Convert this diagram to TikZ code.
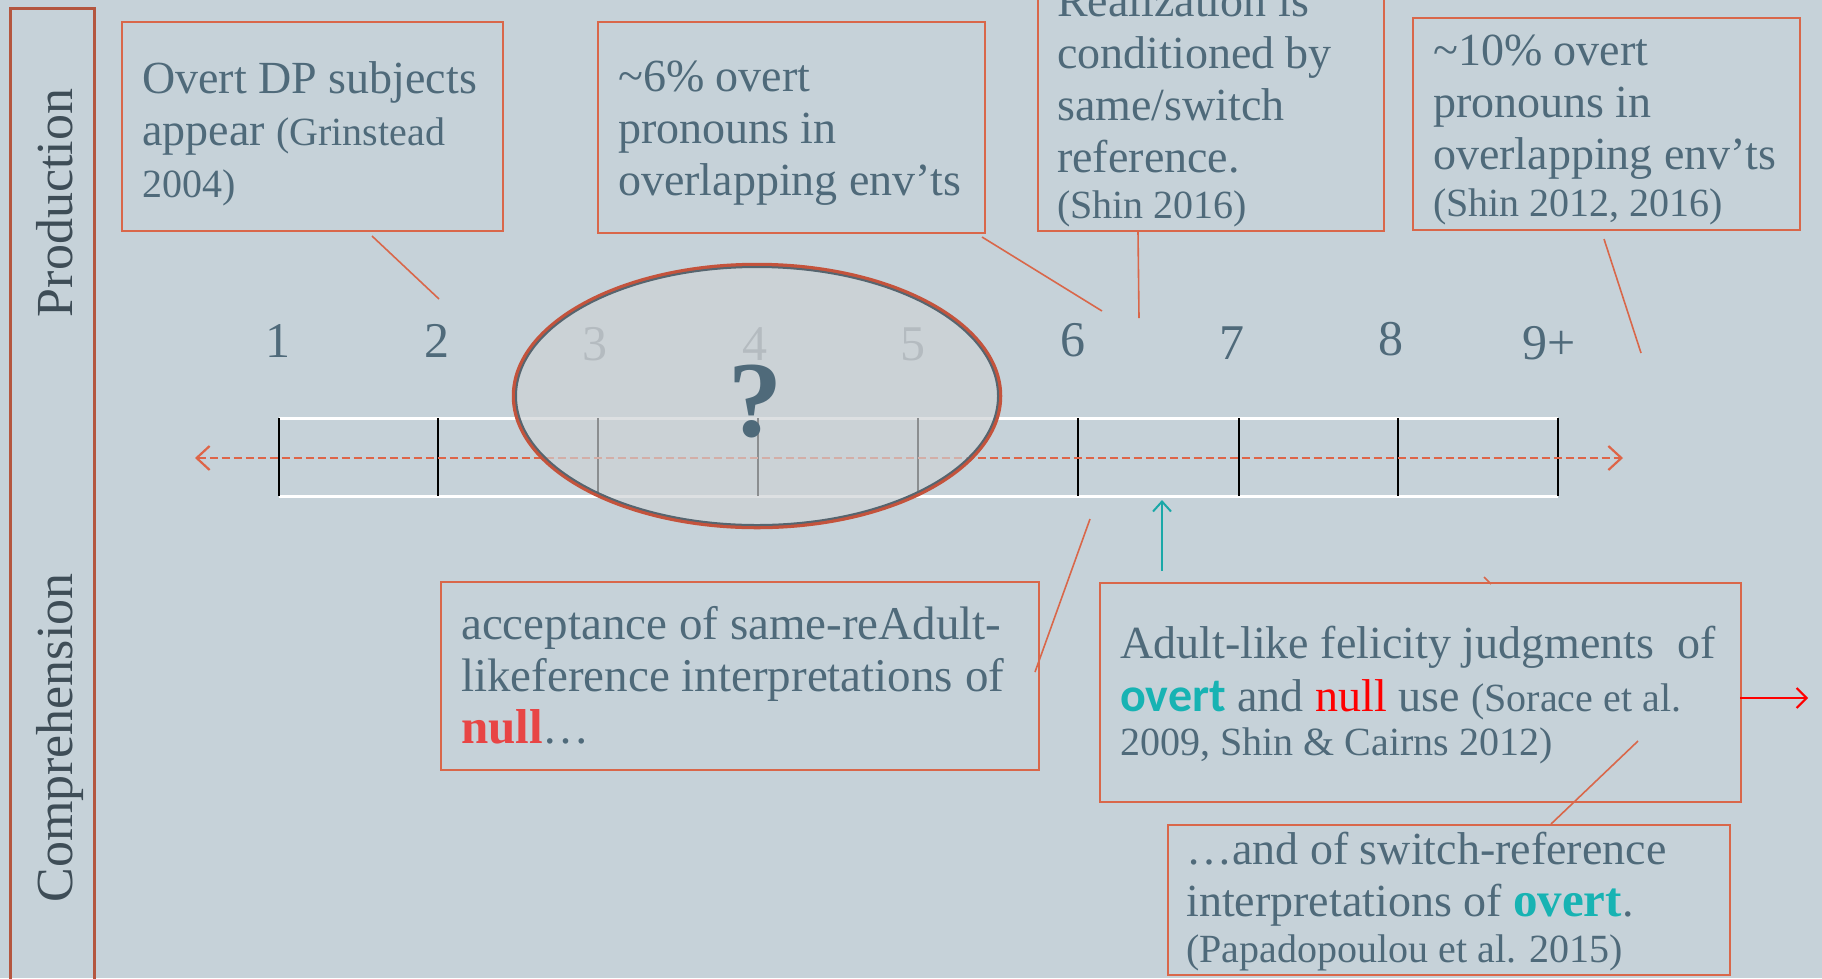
\documentclass[tikz,border=0pt]{standalone}
\usepackage{fontspec}
\setmainfont{Liberation Serif}
\newfontfamily\sansfam{Carlito}
\usetikzlibrary{arrows.meta,shapes.geometric}
\definecolor{bg}{HTML}{C6D2D9}
\definecolor{txtc}{HTML}{4F6A7A}
\definecolor{boxc}{HTML}{D9674A}
\definecolor{stripc}{HTML}{B4563F}
\definecolor{labc}{HTML}{3E4D57}
\definecolor{tealc}{HTML}{17B3B3}
\definecolor{nullc}{HTML}{E84545}
\definecolor{fadec}{HTML}{7F8C94}
\definecolor{ellc}{HTML}{CED2D5}
\definecolor{ellin}{HTML}{56656F}
\definecolor{ellout}{HTML}{C4533C}
\definecolor{dashc}{HTML}{DE6548}
\definecolor{arrteal}{HTML}{1AA8A8}
\newcommand{\mainsz}{\fontsize{46}{52}\selectfont}
\newcommand{\citesz}{\fontsize{40}{52}\selectfont}
\newcommand{\numsz}{\fontsize{50}{56}\selectfont}
\begin{document}
\begin{tikzpicture}[x=1pt,y=-1pt,
  box/.style={draw=boxc, line width=2.2pt, anchor=north west, inner sep=0pt},
  txt/.style={anchor=north west, inner sep=0pt, align=left, text=txtc, font=\mainsz},
  conn/.style={draw=boxc, line width=1.6pt},
  num/.style={anchor=base, inner sep=0pt, text=txtc, font=\numsz},
  fnum/.style={num, text=fadec},
  side/.style={anchor=base, rotate=90, inner sep=0pt, text=labc, font=\fontsize{52}{60}\selectfont}
]
\useasboundingbox (0,0) rectangle (1822,978);
\fill[bg] (0,0) rectangle (1822,978);
\clip (0,0) rectangle (1822,978);

% left strip
\node[draw=stripc, line width=2.5pt, anchor=north west, minimum width=84pt, minimum height=1000pt, inner sep=0pt] (strip) at (9,7) {};
\node[side] (prod) at (72,203) {Production};
\node[side] (comp) at (72,738) {Comprehension};

% boxes
\node[box, minimum width=381pt, minimum height=209pt] (b1) at (121,21) {};
\node[box, minimum width=387pt, minimum height=211pt] (b2) at (597,21) {};
\node[box, minimum width=346pt, minimum height=250pt] (b3) at (1037,-20) {};
\node[box, minimum width=387pt, minimum height=212pt] (b4) at (1412,17) {};
\node[box, minimum width=598pt, minimum height=188pt] (b5) at (440,581) {};
\node[box, minimum width=641pt, minimum height=219pt] (b6) at (1099,582) {};
\node[box, minimum width=562pt, minimum height=150pt] (b7) at (1167,824) {};

% box texts
\node[txt] (t1) at (142,56.6) {\strut Overt DP subjects\\appear {\citesz (Grinstead}\\{\citesz 2004)}};
\node[txt] (t2) at (618,54.6) {\strut\textasciitilde 6\% overt\\pronouns in\\overlapping env’ts};
\node[txt] (t3) at (1057,-20.4) {\strut Realization is\\conditioned by\\same/switch\\reference.\\[-6pt]{\citesz (Shin 2016)}};
\node[txt] (t4) at (1433,28.6) {\strut\textasciitilde 10\% overt\\pronouns in\\overlapping env’ts\\[-5pt]{\citesz (Shin 2012, 2016)}};
\node[txt, font=\fontsize{47}{52}\selectfont] (t5) at (461,602.6) {\strut acceptance of same-reAdult-\\likeference interpretations of\\{\fontsize{49}{52}\selectfont\bfseries\color{nullc}null}…};
\node[txt] (t6) at (1120,621.6) {\strut Adult-like felicity judgments\ \ of\\[1pt]{\sansfam\fontsize{48}{52}\selectfont\bfseries\color{tealc}overt} and {\color{red}null} use {\citesz (Sorace et al.}\\[-8pt]{\citesz 2009, Shin \& Cairns 2012)}};
\node[txt] (t7) at (1186,827.6) {\strut …and of switch-reference\\interpretations of {\fontsize{49}{52}\selectfont\bfseries\color{tealc}overt}.\\[-6pt]{\citesz (Papadopoulou et al. 2015)}};

% scale: white rails and ticks
\foreach \x [count=\i] in {279,438,598,758,918,1078,1239,1398,1558} {
  \coordinate (tt\i) at (\x,418);
  \coordinate (tb\i) at (\x,496);
}
\draw[white, line width=3pt] (tt1) -- (tt9);
\draw[white, line width=3pt] (tb1) -- (tb9);
\foreach \i in {1,...,9} { \draw[black, line width=2pt] (tt\i) -- (tb\i); }

% dashed arrow
\coordinate (dl) at (195,458);
\coordinate (dr) at (1623,458);
\draw[dashc, line width=2.8pt, dash pattern=on 8pt off 4pt,
  {Straight Barb[length=13pt,width=24pt,line width=2.2pt]}-{Straight Barb[length=13pt,width=24pt,line width=2.2pt]}] (dl) -- (dr);

% numbers
\node[num] (n1) at (278,357) {1};
\node[num] (n2) at (437,357) {2};
\node[fnum] (n3) at (595,360) {3};
\node[fnum] (n4) at (755,360) {4};
\node[fnum] (n5) at (913,360) {5};
\node[num] (n6) at (1073,356) {6};
\node[num] (n7) at (1232,359) {7};
\node[num] (n8) at (1391,355) {8};
\node[num] (n9) at (1549,359) {9+};

% ellipse
\node[ellipse, draw=ellout, line width=4.5pt, minimum width=486pt, minimum height=262pt, inner sep=0pt] (ellO) at (757,396) {};
\node[ellipse, fill=ellc, fill opacity=0.68, draw=ellin, draw opacity=1, line width=2pt, minimum width=482pt, minimum height=258pt, inner sep=0pt] (ell) at (757,396) {};
\node[anchor=base, inner sep=0pt, text=txtc, font=\fontsize{108}{108}\selectfont\bfseries] (q) at (755,436) {?};

% connectors
\coordinate (c1s) at (372,236); \coordinate (c1e) at (439,299);
\draw[conn] (c1s) -- (c1e);
\coordinate (c2s) at (982,237); \coordinate (c2e) at (1102,311);
\draw[conn] (c2s) -- (c2e);
\coordinate (c3s) at (1138,232); \coordinate (c3e) at (1139,318);
\draw[conn] (c3s) -- (c3e);
\coordinate (c4s) at (1604,239); \coordinate (c4e) at (1641,353);
\draw[conn] (c4s) -- (c4e);
\coordinate (c5s) at (1035,672); \coordinate (c5e) at (1090,519);
\draw[conn] (c5s) -- (c5e);
\coordinate (c6s) at (1484,577); \coordinate (c6e) at (1491,584);
\draw[conn] (c6s) -- (c6e);
\coordinate (c7s) at (1638,741); \coordinate (c7e) at (1551,824);
\draw[conn] (c7s) -- (c7e);

% teal arrow
\coordinate (tas) at (1162,571); \coordinate (tae) at (1162,500);
\draw[arrteal, line width=2pt, -{Straight Barb[length=10pt,width=18pt,line width=2pt]}] (tas) -- (tae);

% red arrow
\coordinate (ras) at (1740,698); \coordinate (rae) at (1808,698);
\draw[red, line width=2pt, -{Straight Barb[length=10pt,width=20pt,line width=2pt]}] (ras) -- (rae);
\end{tikzpicture}
\end{document}
